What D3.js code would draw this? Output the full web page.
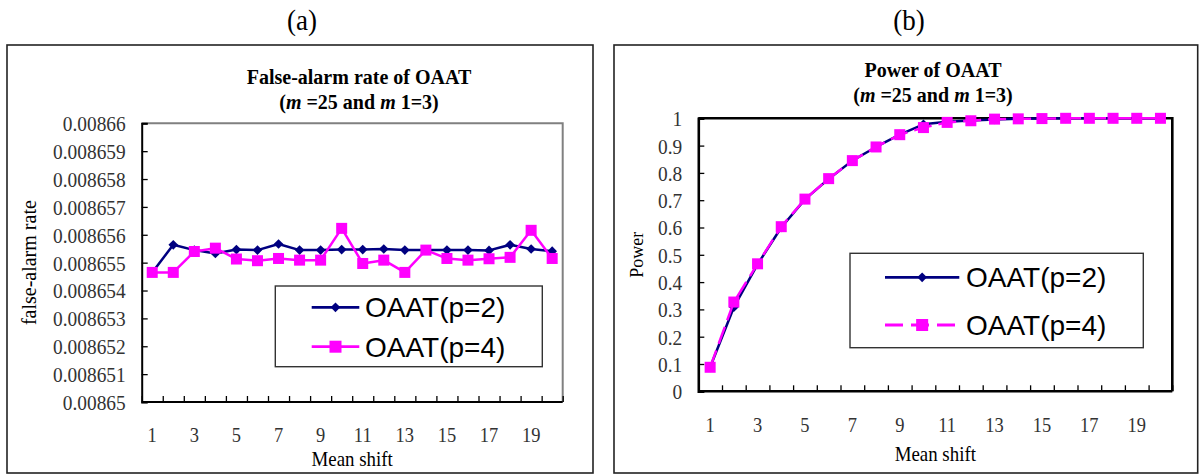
<!DOCTYPE html>
<html><head><meta charset="utf-8">
<script src="https://cdn.jsdelivr.net/npm/d3@7"></script>
<style>
html,body{margin:0;padding:0;background:#fff;}
svg{display:block;}
</style></head>
<body>
<svg id="chart" width="1202" height="475"></svg>
<script>
// ---- data ----
const meanShift = [1,2,3,4,5,6,7,8,9,10,11,12,13,14,15,16,17,18,19,20];
const xTickLabels = ["1","3","5","7","9","11","13","15","17","19"];
const seriesNames = ["OAAT(p=2)", "OAAT(p=4)"];

const falseAlarmP2 = [0.00865465,0.00865564,0.00865545,0.00865533,0.00865547,0.00865545,0.00865567,0.00865545,0.00865545,0.00865547,
                      0.00865547,0.00865549,0.00865545,0.00865545,0.00865545,0.00865545,0.00865544,0.00865564,0.00865549,0.00865541];
const falseAlarmP4 = [0.00865465,0.00865465,0.0086554,0.00865552,0.00865513,0.00865507,0.00865515,0.00865509,0.00865509,0.00865623,
                      0.00865497,0.00865509,0.00865465,0.00865545,0.00865515,0.00865509,0.00865514,0.00865519,0.00865616,0.00865515];
const falseAlarmTicks = [0.00865,0.008651,0.008652,0.008653,0.008654,0.008655,0.008656,0.008657,0.008658,0.008659,0.00866];
const falseAlarmTickLabels = ["0.00865","0.008651","0.008652","0.008653","0.008654","0.008655","0.008656","0.008657","0.008658","0.008659","0.00866"];

const powerP2 = [0.088,0.308,0.465,0.600,0.703,0.778,0.845,0.895,0.940,0.978,0.987,0.992,0.996,0.998,0.999,1,1,1,1,1];
const powerP4 = [0.088,0.327,0.467,0.603,0.704,0.779,0.845,0.895,0.940,0.966,0.985,0.991,0.997,0.998,0.999,1,1,1,1,1];
const powerTicks = [0,0.1,0.2,0.3,0.4,0.5,0.6,0.7,0.8,0.9,1];
const powerTickLabels = ["0","0.1","0.2","0.3","0.4","0.5","0.6","0.7","0.8","0.9","1"];

const BLUE = "#000080", PINK = "#FF00FF";
const SERIF = "'Liberation Serif','Times New Roman',serif";
const SANS = "'Liberation Sans',Arial,sans-serif";

const svg = d3.select("#chart");

function narrowText(sel, x, y, anchor, size, sx) {
  return sel.attr("transform", `translate(${x},${y}) scale(${sx},1)`)
    .attr("text-anchor", anchor).attr("font-family", SERIF).attr("font-size", size);
}

function panel(cfg) {
  const g = svg.append("g");
  g.append("rect").attr("x", cfg.box[0]).attr("y", cfg.box[1])
    .attr("width", cfg.box[2]-cfg.box[0]).attr("height", cfg.box[3]-cfg.box[1])
    .attr("fill", "none").attr("stroke", "#222").attr("stroke-width", 1.6);
  narrowText(g.append("text"), cfg.captionX, 30, "middle", 30, 0.9).text(cfg.caption);
  g.append("text").attr("x", cfg.titleX).attr("y", cfg.titleY1).attr("text-anchor", "middle")
    .attr("font-family", SERIF).attr("font-weight", "bold").attr("font-size", 20).text(cfg.title);
  const t2 = g.append("text").attr("x", cfg.titleX).attr("y", cfg.titleY2).attr("text-anchor", "middle")
    .attr("font-family", SERIF).attr("font-weight", "bold").attr("font-size", 20);
  t2.append("tspan").text("(");
  t2.append("tspan").attr("font-style", "italic").text("m");
  t2.append("tspan").text(" =25 and ");
  t2.append("tspan").attr("font-style", "italic").text("m");
  t2.append("tspan").text(" 1=3)");

  const x = d3.scaleBand().domain(meanShift).range([cfg.plot[0], cfg.plot[2]]);
  const y = d3.scaleLinear().domain(cfg.yDomain).range([cfg.plot[3], cfg.plot[1]]);
  const cx = d => x(d) + x.bandwidth()/2;

  g.append("path")
    .attr("d", `M${cfg.plot[0]},${cfg.plot[1]}H${cfg.plot[2]}V${cfg.plot[3]}`)
    .attr("fill", "none").attr("stroke", cfg.borderColor).attr("stroke-width", cfg.borderWidth);

  const yAxis = d3.axisRight(y).tickValues(cfg.yTicks).tickSize(6).tickFormat(() => "");
  const ya = g.append("g").attr("transform", `translate(${cfg.plot[0]},0)`).call(yAxis);
  ya.select(".domain").attr("stroke", "#000").attr("stroke-width", cfg.axisWidth);
  ya.selectAll(".tick line").attr("stroke", "#000").attr("stroke-width", 1.3);
  g.selectAll(".ylab").data(cfg.yTicks).join("text")
    .each(function(d,i){ narrowText(d3.select(this), cfg.plot[0] - 16, y(d), "end", 22, 0.88); })
    .attr("dy", "0.36em").attr("fill", "#333")
    .text((d,i) => cfg.yTickLabels[i]);

  const boundaries = meanShift.map(d => x(d)).concat([cfg.plot[2]]);
  const xb = d3.scaleLinear().domain([0, 1]).range([0, 1]);
  const xAxis = d3.axisTop(xb).tickValues(boundaries).tickSize(6).tickFormat("");
  const xa = g.append("g").attr("transform", `translate(0,${cfg.plot[3]})`).call(xAxis);
  xa.select(".domain").remove();
  xa.selectAll(".tick line").attr("stroke", "#000").attr("stroke-width", 1.3);
  g.append("line").attr("x1", cfg.plot[0]).attr("x2", cfg.plot[2])
    .attr("y1", cfg.plot[3]).attr("y2", cfg.plot[3])
    .attr("stroke", "#000").attr("stroke-width", cfg.axisWidth);
  g.selectAll(".xlab").data(xTickLabels).join("text")
    .each(function(d){ narrowText(d3.select(this), cx(+d), cfg.plot[3] + cfg.xLabOffset, "middle", 21, 0.88); })
    .attr("dy", "0.36em").attr("fill", "#333")
    .text(d => d);

  narrowText(g.append("text"), (cfg.plot[0]+cfg.plot[2])/2, cfg.xTitleY, "middle", 21, 0.9)
    .attr("dy", "0.35em").text("Mean shift");
  g.append("text").attr("transform", `translate(${cfg.yTitleX},${(cfg.plot[1]+cfg.plot[3])/2}) rotate(-90)`)
    .attr("dy", "0.35em").attr("text-anchor", "middle").attr("font-family", SERIF)
    .attr("font-size", cfg.yTitleSize).text(cfg.yTitle);

  const line = d3.line().x((d,i) => cx(meanShift[i])).y(d => y(d));
  g.append("path").datum(cfg.s1).attr("d", line).attr("fill", "none")
    .attr("stroke", BLUE).attr("stroke-width", 2.5).attr("stroke-linejoin", "round");
  g.selectAll(".dia").data(cfg.s1).join("path")
    .attr("d", d3.symbol(d3.symbolDiamond2, 60)())
    .attr("transform", (d,i) => `translate(${cx(meanShift[i])},${y(d)})`).attr("fill", BLUE);
  g.append("path").datum(cfg.s2).attr("d", line).attr("fill", "none")
    .attr("stroke", PINK).attr("stroke-width", 2.5).attr("stroke-linejoin", "round")
    .attr("stroke-dasharray", cfg.dash || null);
  g.selectAll(".sq").data(cfg.s2).join("rect")
    .attr("x", (d,i) => cx(meanShift[i]) - 5.5).attr("y", d => y(d) - 5.5)
    .attr("width", 11).attr("height", 11).attr("fill", PINK);

  const L = cfg.legend;
  g.append("rect").attr("x", L.box[0]).attr("y", L.box[1]).attr("width", L.box[2]-L.box[0])
    .attr("height", L.box[3]-L.box[1]).attr("fill", "#fff").attr("stroke", "#333").attr("stroke-width", 1.4);
  [0,1].forEach(k => {
    const yy = L.rows[k];
    g.append("line").attr("x1", L.lineX[0]).attr("x2", L.lineX[1]).attr("y1", yy).attr("y2", yy)
      .attr("stroke", k ? PINK : BLUE).attr("stroke-width", 2.8)
      .attr("stroke-dasharray", k && cfg.dash ? L.dash : null);
    const mx = (L.lineX[0] + L.lineX[1]) / 2;
    if (k === 0) {
      g.append("path").attr("d", d3.symbol(d3.symbolDiamond2, 60)())
        .attr("transform", `translate(${mx},${yy})`).attr("fill", BLUE);
    } else {
      g.append("rect").attr("x", mx - 6).attr("y", yy - 6).attr("width", 12).attr("height", 12).attr("fill", PINK);
    }
    g.append("text").attr("x", L.textX).attr("y", yy).attr("dy", "0.36em")
      .attr("font-family", SANS).attr("font-size", 28).attr("fill", "#000").text(seriesNames[k]);
  });
}

panel({
  box: [7, 45, 593, 473],
  caption: "(a)", captionX: 302,
  title: "False-alarm rate of OAAT", titleX: 359, titleY1: 84, titleY2: 109,
  plot: [141.7, 123.3, 562.7, 402],
  yDomain: [0.00865, 0.00866], yTicks: falseAlarmTicks, yTickLabels: falseAlarmTickLabels,
  borderColor: "#808080", borderWidth: 2, axisWidth: 2,
  xLabOffset: 32, xTitleY: 459,
  yTitle: "false-alarm rate", yTitleX: 29, yTitleSize: 20,
  s1: falseAlarmP2, s2: falseAlarmP4, dash: null,
  legend: { box: [275.3, 286, 542.3, 366.7], rows: [307.3, 346.7], lineX: [311.7, 359.3], textX: 365 }
});

panel({
  box: [614, 45, 1197.7, 473],
  caption: "(b)", captionX: 909,
  title: "Power of OAAT", titleX: 933, titleY1: 77, titleY2: 102,
  plot: [698.3, 118.3, 1172.3, 391.3],
  yDomain: [0, 1], yTicks: powerTicks, yTickLabels: powerTickLabels,
  borderColor: "#000", borderWidth: 2.6, axisWidth: 2.6,
  xLabOffset: 33.5, xTitleY: 454,
  yTitle: "Power", yTitleX: 637, yTitleSize: 18,
  s1: powerP2, s2: powerP4, dash: "18,7",
  legend: { box: [850, 253.3, 1143.3, 347.7], rows: [277.3, 325], lineX: [885, 959.3], textX: 966, dash: "18,8" }
});
</script>
</body></html>
